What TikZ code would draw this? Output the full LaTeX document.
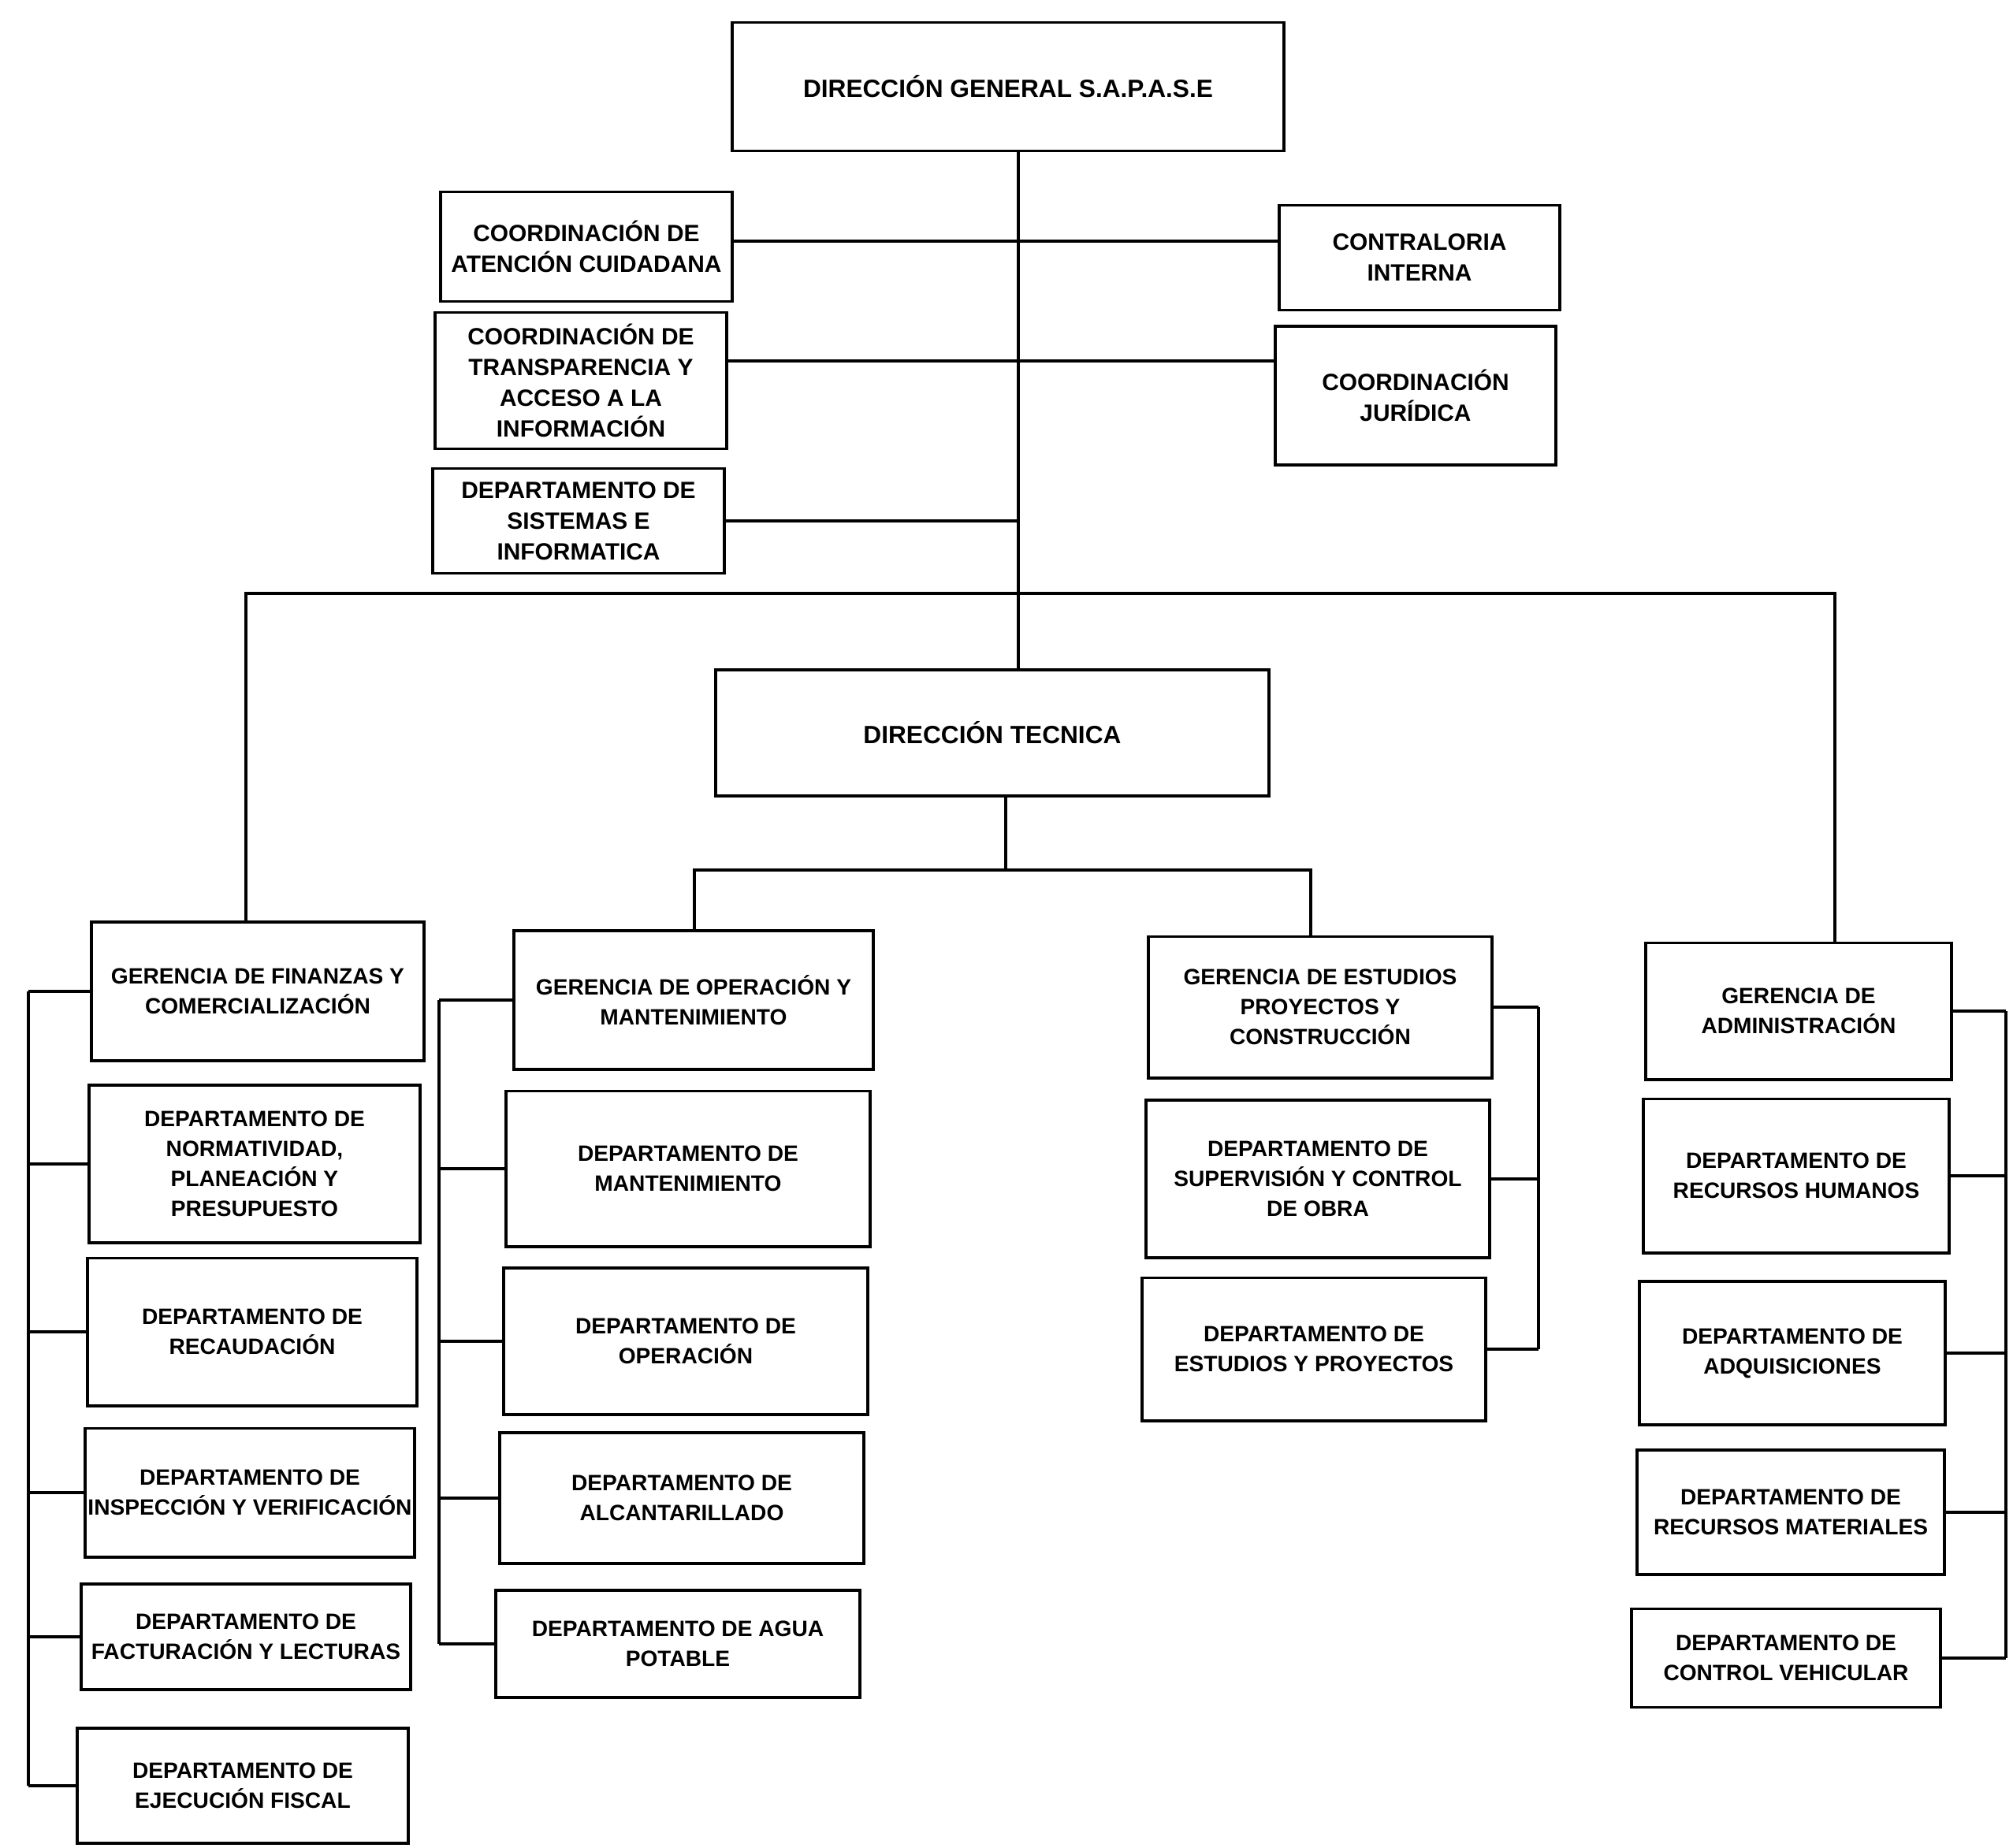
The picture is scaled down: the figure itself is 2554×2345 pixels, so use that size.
\documentclass[tikz,border=0pt]{standalone}
\usepackage{fontspec}
\setmainfont{Liberation Sans}
\usetikzlibrary{positioning}

\begin{document}
\begin{tikzpicture}[x=0.01cm, y=-0.01cm,
  unit/.style={draw, line width=1.1pt, align=center, inner sep=1pt, font=\fontsize{8}{10.8}\selectfont\bfseries},
  upper/.style={unit, font=\fontsize{8.5}{11.1}\selectfont\bfseries},
  head/.style={unit, font=\fontsize{9}{12}\selectfont\bfseries},
  link/.style={line width=0.9pt}]
  \fill[white] (0,0) rectangle (2554,2345);
  \useasboundingbox (0,0) rectangle (2554,2345);

  % Direccion general y staff
  \node[head, minimum width=7cm, minimum height=1.63cm] (dg) at (1279,110) {DIRECCIÓN GENERAL S.A.P.A.S.E};
  \node[upper, minimum width=3.7cm, minimum height=1.39cm] (aten) at (744,313) {COORDINACIÓN DE\\ATENCIÓN CUIDADANA};
  \node[upper, minimum width=3.7cm, minimum height=1.73cm] (trans) at (737,483) {COORDINACIÓN DE\\TRANSPARENCIA Y\\ACCESO A LA\\INFORMACIÓN};
  \node[upper, minimum width=3.7cm, minimum height=1.33cm] (sis) at (734,661) {DEPARTAMENTO DE\\SISTEMAS E\\INFORMATICA};
  \node[upper, minimum width=3.55cm, minimum height=1.33cm] (contra) at (1801,327) {CONTRALORIA\\INTERNA};
  \node[upper, minimum width=3.56cm, minimum height=1.76cm] (jur) at (1796,502) {COORDINACIÓN\\JURÍDICA};

  % Direccion tecnica
  \node[head, minimum width=7.01cm, minimum height=1.6cm] (dt) at (1259,930) {DIRECCIÓN TECNICA};

  % Finanzas
  \node[unit, minimum width=4.21cm, minimum height=1.76cm] (fin) at (327,1258) {GERENCIA DE FINANZAS Y\\COMERCIALIZACIÓN};
  \node[unit, minimum width=4.19cm, minimum height=2cm] (norm) at (323,1477) {DEPARTAMENTO DE\\NORMATIVIDAD,\\PLANEACIÓN Y\\PRESUPUESTO};
  \node[unit, minimum width=4.18cm, minimum height=1.87cm] (rec) at (320,1690) {DEPARTAMENTO DE\\RECAUDACIÓN};
  \node[unit, minimum width=4.18cm, minimum height=1.63cm] (insp) at (317,1894) {DEPARTAMENTO DE\\INSPECCIÓN Y VERIFICACIÓN};
  \node[unit, minimum width=4.18cm, minimum height=1.34cm] (fact) at (312,2077) {DEPARTAMENTO DE\\FACTURACIÓN Y LECTURAS};
  \node[unit, minimum width=4.2cm, minimum height=1.46cm] (ejec) at (308,2266) {DEPARTAMENTO DE\\EJECUCIÓN FISCAL};

  % Operacion y mantenimiento
  \node[unit, minimum width=4.56cm, minimum height=1.76cm] (gop) at (880,1269) {GERENCIA DE OPERACIÓN Y\\MANTENIMIENTO};
  \node[unit, minimum width=4.61cm, minimum height=1.97cm] (mant) at (873,1483) {DEPARTAMENTO DE\\MANTENIMIENTO};
  \node[unit, minimum width=4.62cm, minimum height=1.86cm] (oper) at (870,1702) {DEPARTAMENTO DE\\OPERACIÓN};
  \node[unit, minimum width=4.62cm, minimum height=1.66cm] (alc) at (865,1901) {DEPARTAMENTO DE\\ALCANTARILLADO};
  \node[unit, minimum width=4.61cm, minimum height=1.36cm] (agua) at (860,2086) {DEPARTAMENTO DE AGUA\\POTABLE};

  % Estudios, proyectos y construccion
  \node[unit, minimum width=4.35cm, minimum height=1.79cm] (gest) at (1675,1278) {GERENCIA DE ESTUDIOS\\PROYECTOS Y\\CONSTRUCCIÓN};
  \node[unit, minimum width=4.35cm, minimum height=2cm] (sup) at (1672,1496) {DEPARTAMENTO DE\\SUPERVISIÓN Y CONTROL\\DE OBRA};
  \node[unit, minimum width=4.35cm, minimum height=1.81cm] (eyp) at (1667,1712) {DEPARTAMENTO DE\\ESTUDIOS Y PROYECTOS};

  % Administracion
  \node[unit, minimum width=3.88cm, minimum height=1.73cm] (gadm) at (2282,1283) {GERENCIA DE\\ADMINISTRACIÓN};
  \node[unit, minimum width=3.88cm, minimum height=1.95cm] (rh) at (2279,1492) {DEPARTAMENTO DE\\RECURSOS HUMANOS};
  \node[unit, minimum width=3.88cm, minimum height=1.82cm] (adq) at (2274,1717) {DEPARTAMENTO DE\\ADQUISICIONES};
  \node[unit, minimum width=3.89cm, minimum height=1.58cm] (rmat) at (2272,1919) {DEPARTAMENTO DE\\RECURSOS MATERIALES};
  \node[unit, minimum width=3.92cm, minimum height=1.25cm] (cveh) at (2266,2104) {DEPARTAMENTO DE\\CONTROL VEHICULAR};

  % Lineas de mando
  \coordinate (trunk) at (1292,753);
  \coordinate (row1) at (1292,306);
  \coordinate (row2) at (1292,458);
  \coordinate (busL) at (312,753);
  \coordinate (busR) at (2328,753);
  \coordinate (fork) at (1276,1104);
  \coordinate (forkL) at (881,1104);
  \coordinate (forkR) at (1663,1104);
  \coordinate (railA) at (36,1250);
  \coordinate (railB) at (557,1259);
  \coordinate (railC) at (1952,1282);
  \coordinate (railD) at (2545,1287);

  \draw[link] (dg.south -| trunk) -- (dt.north -| trunk);
  \draw[link] (aten.east |- row1) -- (contra.west |- row1);
  \draw[link] (trans.east |- row2) -- (jur.west |- row2);
  \draw[link] (sis.east) -- (sis.east -| trunk);
  \draw[link] (busL |- fin.north) -- (busL) -- (busR) -- (busR |- gadm.north);
  \draw[link] (dt.south -| fork) -- (fork);
  \draw[link] (forkL |- gop.north) -- (forkL) -- (forkR) -- (forkR |- gest.north);

  % Departamentos
  \foreach \n in {fin,norm,rec,insp,fact,ejec}
    \draw[link] (\n.west) -- (\n.west -| railA);
  \draw[link] (fin.west -| railA) -- (ejec.west -| railA);
  \foreach \n in {gop,mant,oper,alc,agua}
    \draw[link] (\n.west) -- (\n.west -| railB);
  \draw[link] (gop.west -| railB) -- (agua.west -| railB);
  \foreach \n in {gest,sup,eyp}
    \draw[link] (\n.east) -- (\n.east -| railC);
  \draw[link] (gest.east -| railC) -- (eyp.east -| railC);
  \foreach \n in {gadm,rh,adq,rmat,cveh}
    \draw[link] (\n.east) -- (\n.east -| railD);
  \draw[link] (gadm.east -| railD) -- (cveh.east -| railD);
\end{tikzpicture}
\end{document}
